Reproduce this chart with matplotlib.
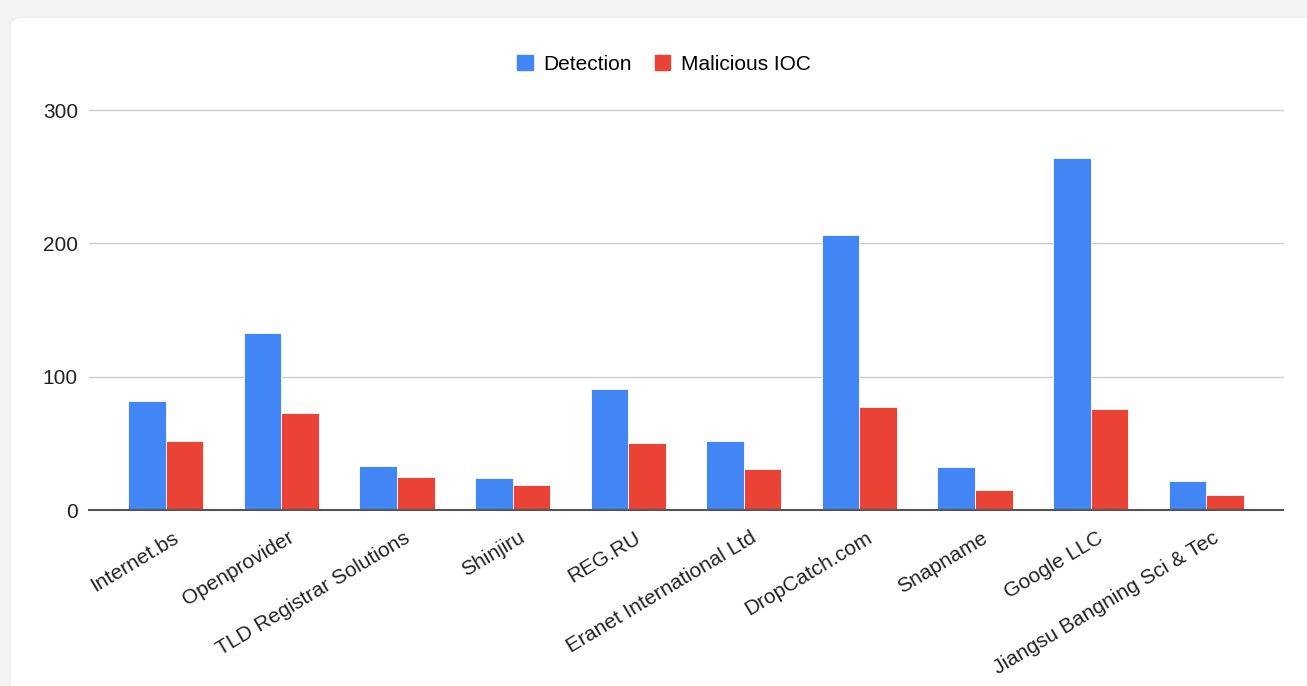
import matplotlib
matplotlib.use("Agg")
import matplotlib.pyplot as plt
from matplotlib.patches import FancyBboxPatch, Patch
import matplotlib.transforms as mtransforms
import numpy as np

categories = ["Internet.bs", "Openprovider", "TLD Registrar Solutions", "Shinjiru", "REG.RU",
              "Eranet International Ltd", "DropCatch.com", "Snapname", "Google LLC",
              "Jiangsu Bangning Sci & Tec"]
detection = [82, 133, 33, 24, 91, 52, 206, 32, 264, 22]
malicious = [52, 73, 25, 19, 50, 31, 77, 15, 76, 11]
series_names = ["Detection", "Malicious IOC"]
colors = ["#4285F4", "#EA4335"]
yticks = [0, 100, 200, 300]

plt.rcParams['font.family'] = ['Liberation Sans', 'DejaVu Sans']

W, H = 1307, 686
fig = plt.figure(figsize=(W / 100, H / 100), dpi=100)
fig.patch.set_facecolor("#f4f4f4")

card = FancyBboxPatch((10 / W, 1 - 700 / H), 1400 / W, (700 - 17) / H,
                      boxstyle="round,pad=0,rounding_size=0.012",
                      transform=fig.transFigure, facecolor="white",
                      edgecolor="#ececec", linewidth=1, zorder=-10)
fig.patches.append(card)

ax = fig.add_axes([89 / W, 1 - 510 / H, (1283 - 89) / W, (510 - 110) / H])
ax.set_zorder(5)
ax.set_facecolor("none")

x = np.arange(len(categories))
bw = 0.325
ax.bar(x - bw / 2, detection, bw, color=colors[0], edgecolor="white", linewidth=0.6, zorder=3)
ax.bar(x + bw / 2, malicious, bw, color=colors[1], edgecolor="white", linewidth=0.6, zorder=3)

ext = 19 / 115.6
ax.set_xlim(-0.5 - ext, len(categories) - 0.5 + ext)
ax.set_ylim(0, 300)
ax.set_yticks(yticks)
ax.set_yticklabels([str(v) for v in yticks], fontsize=15, color="#222222")
for v in yticks[1:]:
    ax.axhline(v, color="#cccccc", linewidth=1, zorder=1, clip_on=False)
ax.axhline(0, color="#555555", linewidth=1.5, zorder=4, clip_on=False)

ax.set_xticks(x)
ax.set_xticklabels(categories, rotation=31, ha="right", rotation_mode="anchor",
                   fontsize=15, color="#222222")
ax.tick_params(axis="both", length=0)
ax.tick_params(axis="y", pad=8)
ax.tick_params(axis="x", pad=13)
offset = mtransforms.ScaledTranslation(0.06, 0, fig.dpi_scale_trans)
for lbl in ax.get_xticklabels():
    lbl.set_transform(lbl.get_transform() + offset)
for s in ax.spines.values():
    s.set_visible(False)

handles = [Patch(facecolor=c, edgecolor=c) for c in colors]
fig.legend(handles, series_names, loc="center", bbox_to_anchor=(664 / W, 1 - 64 / H),
           ncol=2, frameon=False, fontsize=15, handlelength=0.75, handleheight=0.75,
           handletextpad=0.5, columnspacing=1.1)

fig.savefig("out.png", dpi=100, facecolor=fig.get_facecolor())
